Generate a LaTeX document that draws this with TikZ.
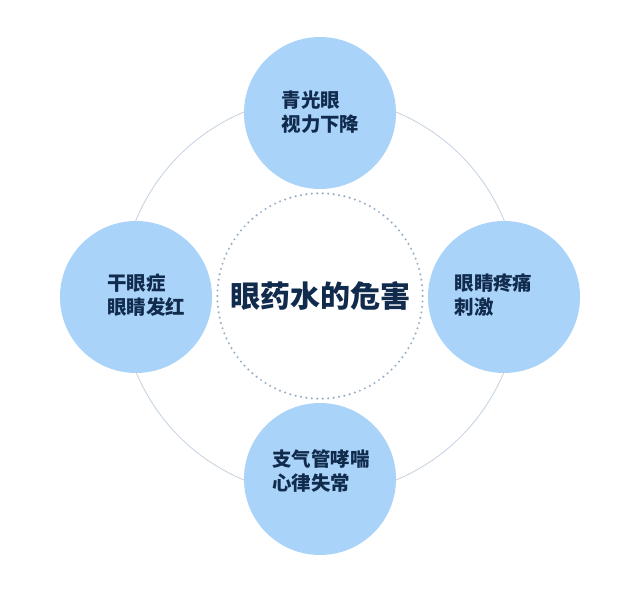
\documentclass[tikz,border=0pt]{standalone}
\usepackage{fontspec}
\newfontfamily\cjk{Noto Sans CJK SC}
\usepackage{tikz}
\definecolor{bubblefill}{HTML}{A9D3F9}
\definecolor{inktext}{HTML}{112B4D}
\definecolor{ringline}{HTML}{C3D1DE}
\definecolor{dotline}{HTML}{9DB2CA}

\begin{document}
\begin{tikzpicture}[
    x=0.75pt, y=-0.75pt,
    bubble/.style  = {circle, fill=bubblefill, minimum size=114pt, inner sep=0pt},
    symptom/.style = {text=inktext, align=left, inner sep=0pt,
                      font=\cjk\bfseries\fontsize{14.6}{18}\selectfont},
    core/.style    = {circle, draw=dotline, line width=1.8pt, line cap=round,
                      dash pattern=on 0pt off 4.1pt, minimum size=154pt, inner sep=0pt,
                      text=inktext, font=\cjk\bfseries\fontsize{22.5}{26}\selectfont},
    ring/.style    = {draw=ringline, line width=0.6pt},
  ]
  \useasboundingbox (0,0) rectangle (640,593);

  % centre and the ring behind the bubbles
  \node[core] (hub) at (320,296) {眼药水的危害};
  \draw[ring] (hub.center) circle[radius=199];

  % four bubbles round the ring
  \node[bubble] (top)    at (320,113) {};
  \node[bubble] (right)  at (504,297) {};
  \node[bubble] (bottom) at (320,479) {};
  \node[bubble] (left)   at (136,297) {};

  % texts, a little towards the centre
  \node[symptom] (toptext)    at (320.5,112.5) {青光眼\\视力下降};
  \node[symptom] (righttext)  at (493.5,295)   {眼睛疼痛\\刺激};
  \node[symptom] (bottomtext) at (321,471)     {支气管哮喘\\心律失常};
  \node[symptom] (lefttext)   at (146,295)     {干眼症\\眼睛发红};
\end{tikzpicture}
\end{document}
